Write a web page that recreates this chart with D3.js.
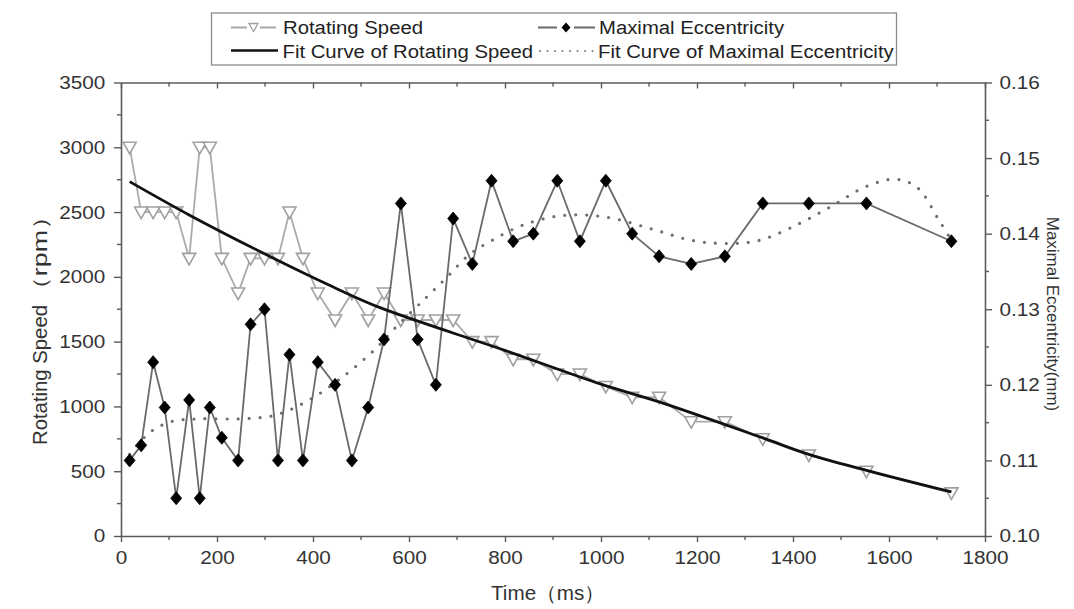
<!DOCTYPE html>
<html><head><meta charset="utf-8">
<script src="https://cdn.jsdelivr.net/npm/d3@7"></script>
<style>
html,body{margin:0;padding:0;background:#fff;}
svg{display:block;font-family:"Liberation Sans",Arial,sans-serif;}
</style></head>
<body>
<svg id="chart" width="1074" height="609"></svg>
<script>
// ---- data ----
const times = [18,42,67,91,115,142,164,185,210,244,270,299,327,351,379,410,446,481,515,548,583,618,656,692,732,772,817,859,909,956,1010,1065,1121,1188,1258,1337,1433,1553,1730];
const rotatingSpeed = [3000,2500,2500,2500,2500,2143,3000,3000,2143,1875,2143,2143,2143,2500,2143,1875,1667,1875,1667,1875,1667,1667,1667,1667,1500,1500,1364,1364,1250,1250,1154,1071,1071,882,882,750,625,500,333];
const maxEccentricity = [0.110,0.112,0.123,0.117,0.105,0.118,0.105,0.117,0.113,0.110,0.128,0.130,0.110,0.124,0.110,0.123,0.120,0.110,0.117,0.126,0.144,0.126,0.120,0.142,0.136,0.147,0.139,0.140,0.147,0.139,0.147,0.140,0.137,0.136,0.137,0.144,0.144,0.144,0.139];
const fitSpeedTimes = [18,142,299,440,537,801,1000,1121,1337,1433,1553,1730];
const fitSpeedValues = [2735,2478,2178,1925,1766,1431,1172,1035,757,630,507,340];
const fitEccTimes = [18,58,103,162,246,322,392,461,531,572,635,680,725,770,836,919,1010,1107,1190,1260,1329,1412,1482,1551,1614,1659,1704,1730];
const fitEccValues = [0.1108,0.1136,0.1151,0.1155,0.1155,0.1160,0.1180,0.1210,0.1248,0.1276,0.1315,0.1343,0.1372,0.1390,0.1411,0.1424,0.1422,0.1406,0.1391,0.1387,0.1391,0.1413,0.1437,0.1462,0.1472,0.1461,0.1418,0.1391];
const xTicks = [0,200,400,600,800,1000,1200,1400,1600,1800];
const leftTicks = [0,500,1000,1500,2000,2500,3000,3500];
const rightTicks = [0.10,0.11,0.12,0.13,0.14,0.15,0.16];
const legendLabels = ["Rotating Speed","Maximal Eccentricity","Fit Curve of Rotating Speed","Fit Curve of Maximal Eccentricity"];

// ---- layout ----
const svg = d3.select("#chart");
const L = 121, R = 985, T = 82.5, B = 536;
const x = d3.scaleLinear().domain([0,1800]).range([L,R]);
const yL = d3.scaleLinear().domain([0,3500]).range([B,T]);
const yR = d3.scaleLinear().domain([0.10,0.16]).range([B,T]);
const axisColor = "#5a5a5a", textColor = "#333";
const fs = 18.5, sx = 1.12;

function styleAxis(g){
  g.select(".domain").attr("stroke",axisColor).attr("stroke-width",1.6);
  g.selectAll(".tick line").attr("stroke",axisColor).attr("stroke-width",1.4);
  g.selectAll(".tick text").attr("fill",textColor).style("font-size",fs+"px")
    .style("font-family","Liberation Sans, Arial, sans-serif").attr("transform",`scale(${sx},1)`);
}
const xMinor = d3.range(100,1800,200);
const lMinor = d3.range(250,3500,500);
const rMinor = [0.105,0.115,0.125,0.135,0.145,0.155];

const gx = svg.append("g").attr("transform",`translate(0,${B})`)
  .call(d3.axisBottom(x).tickValues(xTicks).tickFormat(d3.format("d")).tickSize(6).tickSizeOuter(0).tickPadding(9));
styleAxis(gx);
gx.selectAll(".minor").data(xMinor).enter().append("line")
  .attr("x1",d=>x(d)).attr("x2",d=>x(d)).attr("y1",0).attr("y2",4).attr("stroke",axisColor).attr("stroke-width",1.4);

const gt = svg.append("g").attr("transform",`translate(0,${T})`)
  .call(d3.axisTop(x).tickValues(xTicks).tickFormat("").tickSize(-6).tickSizeOuter(0));
styleAxis(gt);
gt.selectAll(".minor").data(xMinor).enter().append("line")
  .attr("x1",d=>x(d)).attr("x2",d=>x(d)).attr("y1",0).attr("y2",4).attr("stroke",axisColor).attr("stroke-width",1.4);

const gl = svg.append("g").attr("transform",`translate(${L},0)`)
  .call(d3.axisLeft(yL).tickValues(leftTicks).tickFormat(d3.format("d")).tickSize(7).tickSizeOuter(0).tickPadding(7));
styleAxis(gl);
gl.selectAll(".minor").data(lMinor).enter().append("line")
  .attr("y1",d=>yL(d)).attr("y2",d=>yL(d)).attr("x1",0).attr("x2",-4).attr("stroke",axisColor).attr("stroke-width",1.4);

const gr = svg.append("g").attr("transform",`translate(${R},0)`)
  .call(d3.axisRight(yR).tickValues(rightTicks).tickFormat(d3.format(".2f")).tickSize(7).tickSizeOuter(0).tickPadding(6));
styleAxis(gr);
gr.selectAll(".minor").data(rMinor).enter().append("line")
  .attr("y1",d=>yR(d)).attr("y2",d=>yR(d)).attr("x1",0).attr("x2",4).attr("stroke",axisColor).attr("stroke-width",1.4);

// axis titles
svg.append("text").attr("x",548).attr("y",600).attr("text-anchor","middle")
  .attr("fill",textColor).style("font-size","20px")
  .attr("textLength",114).attr("lengthAdjust","spacingAndGlyphs").text("Time（ms）");
const lt = svg.append("g").attr("transform","translate(47,445) rotate(-90)");
lt.append("text").attr("x",0).attr("y",0).attr("fill",textColor).style("font-size","20px")
  .attr("textLength",140).attr("lengthAdjust","spacingAndGlyphs").text("Rotating Speed");
lt.append("text").attr("x",142).attr("y",0).attr("fill",textColor).style("font-size","20px")
  .attr("textLength",100).attr("lengthAdjust","spacingAndGlyphs").text("（rpm）");
svg.append("text").attr("transform","translate(1047,314) rotate(90)").attr("text-anchor","middle")
  .attr("fill",textColor).style("font-size","17px").text("Maximal Eccentricity(mm)");

// series
const speedData = times.map((t,i)=>({t, v: rotatingSpeed[i]}));
const eccData = times.map((t,i)=>({t, v: maxEccentricity[i]}));
const fitS = fitSpeedTimes.map((t,i)=>({t, v: fitSpeedValues[i]}));
const fitE = fitEccTimes.map((t,i)=>({t, v: fitEccValues[i]}));

const triPath = "M-6.5,-5 L6.5,-5 L0,6.5 Z";
const diaPath = "M0,-6.5 L5.5,0 L0,6.5 L-5.5,0 Z";

svg.append("path").datum(speedData)
  .attr("d", d3.line().x(d=>x(d.t)).y(d=>yL(d.v)))
  .attr("fill","none").attr("stroke","#ababab").attr("stroke-width",1.8);
svg.selectAll(".tri").data(speedData).enter().append("path")
  .attr("transform",d=>`translate(${x(d.t)},${yL(d.v)})`).attr("d",triPath)
  .attr("fill","#fff").attr("stroke","#a0a0a0").attr("stroke-width",1.6);

svg.append("path").datum(fitE)
  .attr("d", d3.line().curve(d3.curveCatmullRom).x(d=>x(d.t)).y(d=>yR(d.v)))
  .attr("fill","none").attr("stroke","#6e6e6e").attr("stroke-width",3.2)
  .attr("stroke-linecap","round").attr("stroke-dasharray","0,11");

svg.append("path").datum(eccData)
  .attr("d", d3.line().x(d=>x(d.t)).y(d=>yR(d.v)))
  .attr("fill","none").attr("stroke","#6a6a6a").attr("stroke-width",1.8);
svg.selectAll(".dia").data(eccData).enter().append("path")
  .attr("transform",d=>`translate(${x(d.t)},${yR(d.v)})`).attr("d",diaPath)
  .attr("fill","#000").attr("stroke","#000").attr("stroke-width",0.8);

svg.append("path").datum(fitS)
  .attr("d", d3.line().curve(d3.curveCatmullRom).x(d=>x(d.t)).y(d=>yL(d.v)))
  .attr("fill","none").attr("stroke","#111").attr("stroke-width",2.8);

// legend
const lg = svg.append("g");
lg.append("rect").attr("x",211.5).attr("y",13).attr("width",685).attr("height",52)
  .attr("fill","#fff").attr("stroke","#8a8a8a").attr("stroke-width",1.3);
function ltext(xp, yp, s){
  lg.append("text").attr("transform",`translate(${xp},${yp}) scale(1.07,1)`)
    .attr("fill","#222").style("font-size","19px").text(s);
}
lg.append("line").attr("x1",231).attr("x2",276).attr("y1",27.5).attr("y2",27.5).attr("stroke","#a8a8a8").attr("stroke-width",1.8);
lg.append("rect").attr("x",247).attr("y",21).attr("width",13).attr("height",13).attr("fill","#fff");
lg.append("path").attr("transform","translate(253.5,27)").attr("d","M-4.5,-3.5 L4.5,-3.5 L0,4.5 Z")
  .attr("fill","#fff").attr("stroke","#a0a0a0").attr("stroke-width",1.3);
ltext(283,33.5,legendLabels[0]);
lg.append("line").attr("x1",538).attr("x2",595).attr("y1",27.5).attr("y2",27.5).attr("stroke","#6a6a6a").attr("stroke-width",1.8);
lg.append("rect").attr("x",557).attr("y",21).attr("width",17).attr("height",13).attr("fill","#fff");
lg.append("path").attr("transform","translate(566,27.5)").attr("d","M0,-5 L4.5,0 L0,5 L-4.5,0 Z").attr("fill","#000");
ltext(599,33.5,legendLabels[1]);
lg.append("line").attr("x1",231).attr("x2",278).attr("y1",50.5).attr("y2",50.5).attr("stroke","#111").attr("stroke-width",2.6);
ltext(282.5,58,legendLabels[2]);
lg.append("line").attr("x1",540).attr("x2",594).attr("y1",51).attr("y2",51).attr("stroke","#777")
  .attr("stroke-width",2).attr("stroke-linecap","round").attr("stroke-dasharray","0,7.5");
ltext(598,58,legendLabels[3]);
</script>
</body></html>
